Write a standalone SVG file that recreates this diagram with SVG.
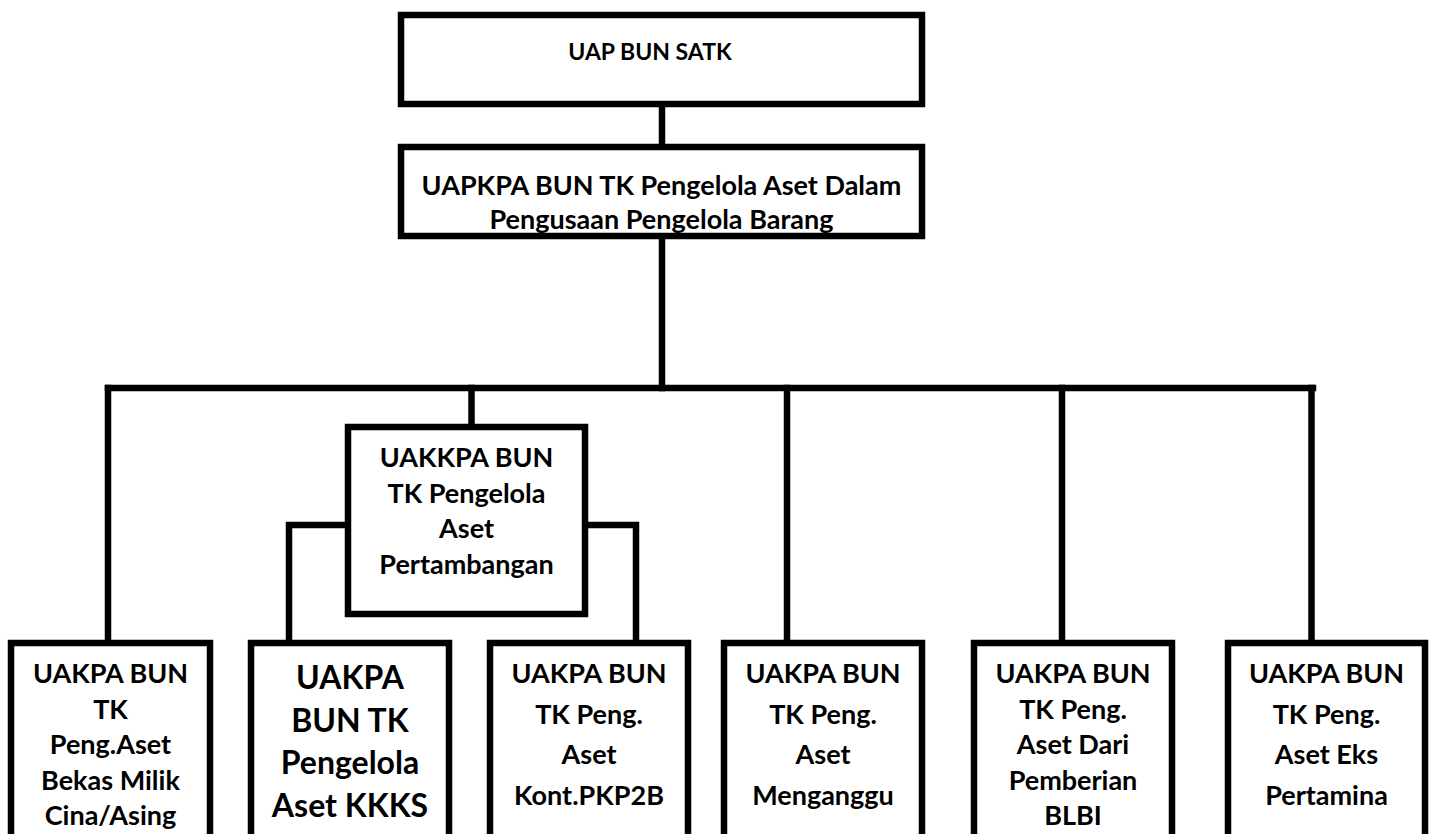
<svg xmlns="http://www.w3.org/2000/svg" width="1435" height="834" viewBox="0 0 1435 834">
<style>
.bg{fill:#fff;stroke:none}
.fr{fill:none;stroke:#000;stroke-width:6.5}
.t{font-family:Lato,"Liberation Sans",sans-serif;font-weight:700;font-size:27px;fill:#000;text-anchor:middle}
.big{font-size:32px}
.sm{font-size:23px}
.c{fill:none;stroke:#000;stroke-width:6.5;stroke-linecap:square}
</style>
<rect width="1435" height="834" fill="#fff"/>
<g id="connectors">
<path class="c" d="M662 107V144"/>
<path class="c" d="M662 239V388"/>
<path class="c" d="M108 388H1313"/>
<path class="c" d="M108 388V640"/>
<path class="c" d="M471.5 388V424"/>
<path class="c" d="M787 388V640"/>
<path class="c" d="M1062 388V640"/>
<path class="c" d="M1311.5 388V640"/>
<path class="c" d="M345 525H289V640"/>
<path class="c" d="M588 525H636V640"/>
</g>
<g id="n-uap">
<rect class="bg" x="401" y="15" width="521" height="89"/>
<text class="t sm" x="650" y="60">UAP BUN SATK</text>
<rect class="fr" x="401" y="15" width="521" height="89"/>
</g>
<g id="n-uapkpa">
<rect class="bg" x="401" y="147" width="521" height="89"/>
<text class="t" x="661.5" y="195">UAPKPA BUN TK Pengelola Aset Dalam</text>
<text class="t" x="661.5" y="229">Pengusaan Pengelola Barang</text>
<rect class="fr" x="401" y="147" width="521" height="89"/>
</g>
<g id="n-uakkpa">
<rect class="bg" x="348" y="427" width="237" height="187"/>
<text class="t" x="466.5" y="467">UAKKPA BUN</text>
<text class="t" x="466.5" y="502.5">TK Pengelola</text>
<text class="t" x="466.5" y="538">Aset</text>
<text class="t" x="466.5" y="573.5">Pertambangan</text>
<rect class="fr" x="348" y="427" width="237" height="187"/>
</g>
<g id="n-cina">
<rect class="bg" x="11" y="643" width="199" height="260"/>
<text class="t" x="110.5" y="683">UAKPA BUN</text>
<text class="t" x="110.5" y="718.5">TK</text>
<text class="t" x="110.5" y="754">Peng.Aset</text>
<text class="t" x="110.5" y="789.5">Bekas Milik</text>
<text class="t" x="110.5" y="825">Cina/Asing</text>
<rect class="fr" x="11" y="643" width="199" height="260"/>
</g>
<g id="n-kkks">
<rect class="bg" x="251" y="643" width="198" height="260"/>
<text class="t big" x="350" y="689">UAKPA</text>
<text class="t big" x="350" y="731.5">BUN TK</text>
<text class="t big" x="350" y="774">Pengelola</text>
<text class="t big" x="350" y="816.5">Aset KKKS</text>
<rect class="fr" x="251" y="643" width="198" height="260"/>
</g>
<g id="n-pkp2b">
<rect class="bg" x="490" y="643" width="198" height="260"/>
<text class="t" x="589" y="683">UAKPA BUN</text>
<text class="t" x="589" y="723.5">TK Peng.</text>
<text class="t" x="589" y="764">Aset</text>
<text class="t" x="589" y="804.5">Kont.PKP2B</text>
<rect class="fr" x="490" y="643" width="198" height="260"/>
</g>
<g id="n-menganggu">
<rect class="bg" x="724" y="643" width="198" height="260"/>
<text class="t" x="823" y="683">UAKPA BUN</text>
<text class="t" x="823" y="723.5">TK Peng.</text>
<text class="t" x="823" y="764">Aset</text>
<text class="t" x="823" y="804.5">Menganggu</text>
<rect class="fr" x="724" y="643" width="198" height="260"/>
</g>
<g id="n-blbi">
<rect class="bg" x="974" y="643" width="198" height="260"/>
<text class="t" x="1073" y="683">UAKPA BUN</text>
<text class="t" x="1073" y="718.5">TK Peng.</text>
<text class="t" x="1073" y="754">Aset Dari</text>
<text class="t" x="1073" y="789.5">Pemberian</text>
<text class="t" x="1073" y="825">BLBI</text>
<rect class="fr" x="974" y="643" width="198" height="260"/>
</g>
<g id="n-pertamina">
<rect class="bg" x="1228" y="643" width="197" height="260"/>
<text class="t" x="1326.5" y="683">UAKPA BUN</text>
<text class="t" x="1326.5" y="723.5">TK Peng.</text>
<text class="t" x="1326.5" y="764">Aset Eks</text>
<text class="t" x="1326.5" y="804.5">Pertamina</text>
<rect class="fr" x="1228" y="643" width="197" height="260"/>
</g>
</svg>
